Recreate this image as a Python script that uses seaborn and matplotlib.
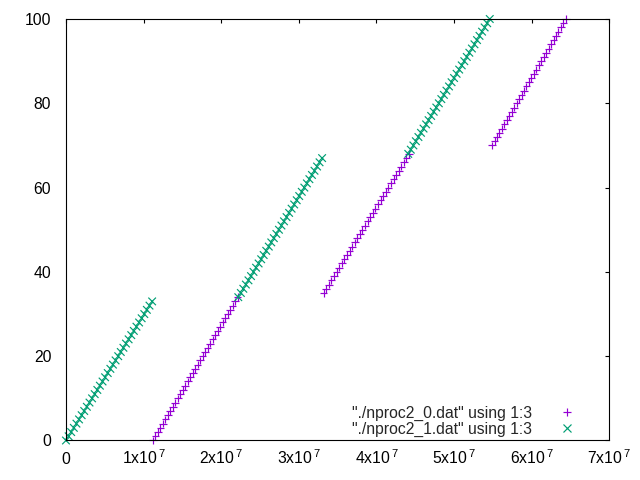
import pandas as pd
import seaborn as sns
import matplotlib.pyplot as plt
from matplotlib.lines import Line2D

# column 1 of each file (offset, in units of 1e6), column 3 (percent done)
# ./nproc2_0.dat -- three runs
p0_run1_x = [11.20, 11.52, 11.84, 12.16, 12.48, 12.80, 13.12, 13.44, 13.76, 14.08,
             14.41, 14.73, 15.05, 15.37, 15.69, 16.01, 16.33, 16.65, 16.97, 17.29,
             17.61, 17.93, 18.25, 18.57, 18.89, 19.21, 19.54, 19.86, 20.18, 20.50,
             20.82, 21.14, 21.46, 21.78, 22.10]
p0_run1_pct = [0, 1, 2, 3, 4, 5, 6, 7, 8, 9, 10, 11, 12, 13, 14, 15, 16, 17, 18, 19,
               20, 21, 22, 23, 24, 25, 26, 27, 28, 29, 30, 31, 32, 33, 34]
p0_run2_x = [33.20, 33.53, 33.87, 34.20, 34.53, 34.87, 35.20, 35.53, 35.87, 36.20,
             36.53, 36.87, 37.20, 37.53, 37.87, 38.20, 38.53, 38.87, 39.20, 39.53,
             39.87, 40.20, 40.53, 40.87, 41.20, 41.53, 41.87, 42.20, 42.53, 42.87,
             43.20, 43.53, 43.87, 44.20]
p0_run2_pct = [35, 36, 37, 38, 39, 40, 41, 42, 43, 44, 45, 46, 47, 48, 49, 50, 51,
               52, 53, 54, 55, 56, 57, 58, 59, 60, 61, 62, 63, 64, 65, 66, 67, 68]
p0_run3_x = [54.90, 55.22, 55.53, 55.85, 56.17, 56.48, 56.80, 57.12, 57.43, 57.75,
             58.07, 58.38, 58.70, 59.02, 59.33, 59.65, 59.97, 60.28, 60.60, 60.92,
             61.23, 61.55, 61.87, 62.18, 62.50, 62.82, 63.13, 63.45, 63.77, 64.08,
             64.40]
p0_run3_pct = [70, 71, 72, 73, 74, 75, 76, 77, 78, 79, 80, 81, 82, 83, 84, 85, 86,
               87, 88, 89, 90, 91, 92, 93, 94, 95, 96, 97, 98, 99, 100]

# ./nproc2_1.dat -- three runs
p1_run1_x = [0.00, 0.34, 0.67, 1.01, 1.35, 1.68, 2.02, 2.35, 2.69, 3.03,
             3.36, 3.70, 4.04, 4.37, 4.71, 5.04, 5.38, 5.72, 6.05, 6.39,
             6.73, 7.06, 7.40, 7.73, 8.07, 8.41, 8.74, 9.08, 9.42, 9.75,
             10.09, 10.42, 10.76, 11.10]
p1_run1_pct = [0, 1, 2, 3, 4, 5, 6, 7, 8, 9, 10, 11, 12, 13, 14, 15, 16, 17, 18, 19,
               20, 21, 22, 23, 24, 25, 26, 27, 28, 29, 30, 31, 32, 33]
p1_run2_x = [22.20, 22.53, 22.85, 23.18, 23.51, 23.84, 24.16, 24.49, 24.82, 25.15,
             25.47, 25.80, 26.13, 26.45, 26.78, 27.11, 27.44, 27.76, 28.09, 28.42,
             28.75, 29.07, 29.40, 29.73, 30.05, 30.38, 30.71, 31.04, 31.36, 31.69,
             32.02, 32.35, 32.67, 33.00]
p1_run2_pct = [34, 35, 36, 37, 38, 39, 40, 41, 42, 43, 44, 45, 46, 47, 48, 49, 50,
               51, 52, 53, 54, 55, 56, 57, 58, 59, 60, 61, 62, 63, 64, 65, 66, 67]
p1_run3_x = [44.10, 44.43, 44.76, 45.08, 45.41, 45.74, 46.07, 46.40, 46.72, 47.05,
             47.38, 47.71, 48.04, 48.36, 48.69, 49.02, 49.35, 49.68, 50.00, 50.33,
             50.66, 50.99, 51.32, 51.64, 51.97, 52.30, 52.63, 52.96, 53.28, 53.61,
             53.94, 54.27, 54.60]
p1_run3_pct = [68, 69, 70, 71, 72, 73, 74, 75, 76, 77, 78, 79, 80, 81, 82, 83, 84,
               85, 86, 87, 88, 89, 90, 91, 92, 93, 94, 95, 96, 97, 98, 99, 100]

labels = ['"./nproc2_0.dat" using 1:3', '"./nproc2_1.dat" using 1:3']
colors = ["#9400d3", "#009e73"]
markers = ["+", "x"]
x_ticks = [0, 1e7, 2e7, 3e7, 4e7, 5e7, 6e7, 7e7]
x_tick_labels = ["0"] + [rf"${k}x10^{{\,7}}$" for k in range(1, 8)]
y_ticks = [0, 20, 40, 60, 80, 100]
FONT_SIZE = 11.3


def to_frame(xs, pcts, label):
    return pd.DataFrame({"x": [v * 1e6 for v in xs], "pct": pcts, "file": label})


df = pd.concat([
    to_frame(p0_run1_x, p0_run1_pct, labels[0]),
    to_frame(p0_run2_x, p0_run2_pct, labels[0]),
    to_frame(p0_run3_x, p0_run3_pct, labels[0]),
    to_frame(p1_run1_x, p1_run1_pct, labels[1]),
    to_frame(p1_run2_x, p1_run2_pct, labels[1]),
    to_frame(p1_run3_x, p1_run3_pct, labels[1]),
], ignore_index=True)

sns.set_style("white")
plt.rcParams["font.family"] = ["Liberation Sans", "DejaVu Sans"]
plt.rcParams["mathtext.default"] = "regular"

fig, ax = plt.subplots(figsize=(6.4, 4.8), dpi=100)
fig.subplots_adjust(left=0.1031, right=0.952, bottom=0.0823, top=0.9604)

sns.scatterplot(data=df, x="x", y="pct", hue="file", style="file",
                palette=dict(zip(labels, colors)), markers=dict(zip(labels, markers)),
                s=30, linewidth=0.85, clip_on=False, legend=False, ax=ax)

ax.set_xlim(0, 7e7)
ax.set_ylim(0, 100)
ax.set_xticks(x_ticks)
ax.set_xticklabels(x_tick_labels)
ax.set_yticks(y_ticks)
ax.set_xlabel("")
ax.set_ylabel("")

for sp in ax.spines.values():
    sp.set_visible(True)
    sp.set_color("black")
    sp.set_linewidth(0.8)
ax.tick_params(direction="in", length=3, width=0.8, top=True, right=True,
               labelsize=FONT_SIZE, colors="black")
ax.tick_params(axis="x", pad=16.8)
ax.tick_params(axis="y", pad=10.6)
for lab in ax.get_xticklabels():
    lab.set_verticalalignment("baseline")

handles = [Line2D([], [], linestyle="none", marker=m, color=c, markersize=5.5,
                  markeredgewidth=0.85) for m, c in zip(markers, colors)]
ax.legend(handles, labels, loc="lower right", bbox_to_anchor=(0.9105, 0.0902),
          bbox_transform=fig.transFigure, frameon=False, markerfirst=False,
          fontsize=FONT_SIZE, handlelength=2, handletextpad=1.23, labelspacing=0.05,
          borderpad=0, borderaxespad=0)

fig.savefig("out.png", dpi=100)
